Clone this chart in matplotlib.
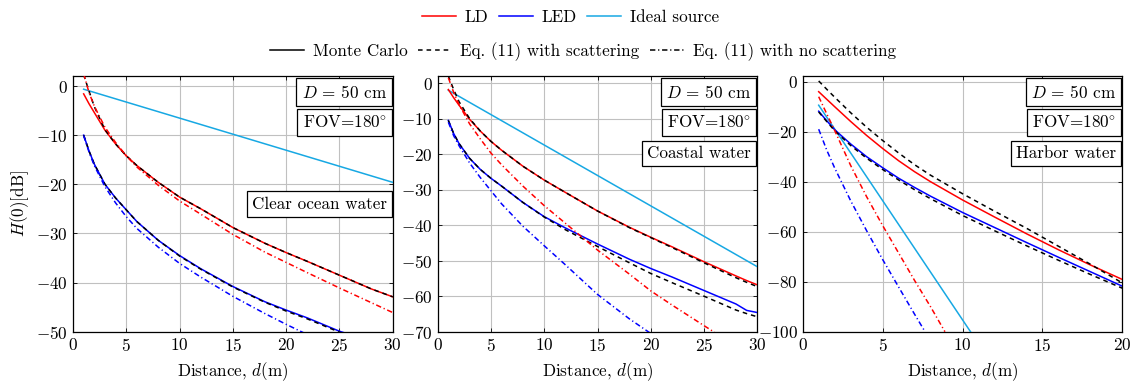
import matplotlib
matplotlib.use("Agg")
import matplotlib.pyplot as plt
from matplotlib.lines import Line2D

plt.rcParams['font.family'] = ['cmr10', 'DejaVu Serif']
plt.rcParams['mathtext.fontset'] = 'cm'
plt.rcParams['axes.formatter.use_mathtext'] = True
plt.rcParams['font.size'] = 12.3
plt.rcParams['axes.unicode_minus'] = True

FS = 12.3

# ---------------- data ----------------
# Panel 1: clear ocean water
d1 = [1, 1.5, 2, 3, 4, 5, 6, 8, 10, 12, 15, 18, 20, 22, 25, 28, 30]
clear_ld_mc = [-1.6, -3.6, -5.4, -9.0, -11.8, -14.2, -16.2, -19.6, -22.6, -25.0, -28.8, -32.0, -33.9, -35.7, -38.5, -41.3, -42.9]
clear_ld_sc = [2.3, -1.0, -4.2, -8.9, -11.8, -14.2, -16.2, -19.6, -22.6, -25.0, -28.8, -32.0, -33.9, -35.7, -38.5, -41.3, -42.9]
clear_ld_ns = [2.5, -1.3, -4.1, -8.4, -11.5, -14.2, -16.5, -20.2, -23.4, -26.1, -30.2, -33.8, -35.9, -38.0, -41.1, -44.1, -46.1]
d1b = [1, 1.5, 2, 3, 4, 5, 6, 8, 10, 12, 15, 18, 20, 22, 25, 26]
clear_led_mc = [-10.0, -13.2, -15.9, -20.0, -22.8, -25.2, -27.6, -31.4, -34.5, -37.2, -40.8, -43.9, -45.6, -47.2, -49.9, -50.6]
clear_led_sc = [-10.0, -13.2, -15.9, -20.0, -22.8, -25.2, -27.6, -31.4, -34.6, -37.3, -40.9, -44.0, -45.8, -47.4, -50.1, -50.8]
d1c = [1, 1.5, 2, 3, 4, 5, 6, 8, 10, 12, 15, 18, 20, 22]
clear_led_ns = [-10.1, -13.4, -16.2, -20.5, -23.8, -26.6, -29.0, -32.8, -36.1, -38.9, -42.8, -46.3, -48.5, -50.6]
clear_ideal_d = [1, 30]
clear_ideal = [-0.65, -19.6]

# Panel 2: coastal water
d2 = [1, 1.5, 2, 3, 4, 5, 6, 8, 10, 12, 15, 18, 20, 22, 25, 28, 29, 30]
coast_ld_mc = [-1.8, -4.1, -6.2, -10.2, -13.5, -16.4, -18.9, -23.4, -27.3, -30.8, -36.0, -40.6, -43.4, -46.1, -50.3, -54.3, -55.6, -56.8]
coast_ld_sc = [2.0, -1.8, -5.2, -10.0, -13.5, -16.4, -18.9, -23.4, -27.3, -30.8, -36.0, -40.7, -43.5, -46.3, -50.6, -54.8, -56.1, -57.3]
coast_led_mc = [-10.5, -14.2, -17.0, -21.2, -24.3, -26.8, -29.0, -33.6, -37.6, -40.8, -45.3, -49.6, -52.2, -54.6, -58.4, -62.2, -64.0, -64.6]
coast_led_sc = [-10.5, -14.2, -17.0, -21.2, -24.3, -26.8, -29.0, -33.6, -37.7, -41.3, -46.0, -50.6, -53.6, -56.2, -60.0, -63.9, -64.9, -65.8]
d2b = [1, 1.5, 2, 3, 4, 5, 6, 8, 10, 12, 15, 18, 20, 22, 25, 26]
coast_ld_ns = [1.5, -2.6, -6.0, -11.5, -15.7, -19.7, -23.0, -29.0, -34.5, -39.5, -47.0, -53.8, -58.5, -62.5, -68.3, -70.2]
d2c = [1, 1.5, 2, 3, 4, 5, 6, 8, 10, 12, 15, 18, 20]
coast_led_ns = [-11.0, -14.8, -17.6, -22.5, -26.6, -30.3, -34.0, -40.3, -45.8, -51.2, -59.5, -66.4, -70.5]
coast_ideal_d = [1, 30]
coast_ideal = [-2.0, -51.7]

# Panel 3: harbor water
d3 = [1, 1.5, 2, 3, 4, 5, 6, 7, 8, 10, 12, 14, 16, 18, 20]
harb_ld_mc = [-4.0, -7.0, -10.0, -15.9, -21.5, -26.7, -31.6, -36.0, -40.0, -47.3, -54.1, -60.8, -67.2, -73.3, -79.1]
harb_ld_sc = [0.3, -3.0, -6.2, -12.4, -18.2, -23.5, -28.5, -33.2, -37.4, -44.8, -51.8, -58.6, -65.8, -73.0, -80.5]
harb_led_mc = [-11.8, -15.6, -19.2, -24.9, -30.0, -34.4, -38.6, -42.3, -45.8, -52.3, -58.3, -64.3, -70.2, -76.0, -81.8]
harb_led_sc = [-12.1, -15.9, -19.6, -25.5, -30.6, -35.1, -39.3, -43.2, -46.8, -53.5, -59.6, -65.6, -71.4, -77.1, -82.6]
d3b = [1, 1.5, 2, 3, 4, 5, 6, 7, 8, 8.9]
harb_ld_ns = [-6.0, -12.8, -19.5, -33.5, -46.0, -57.5, -68.5, -79.5, -90.0, -100.0]
d3c = [1, 1.5, 2, 3, 4, 5, 6, 7, 7.6]
harb_led_ns = [-19.0, -27.3, -34.5, -47.6, -59.6, -71.1, -82.1, -93.0, -99.4]
harb_ideal_d = [1, 10.5]
harb_ideal = [-9.4, -100.0]

water_labels = ["Clear ocean water", "Coastal water", "Harbor water"]
legend_colors = ["LD", "LED", "Ideal source"]
legend_styles = ["Monte Carlo", "Eq. (11) with scattering", "Eq. (11) with no scattering"]

RED = '#FF0000'
BLUE = '#0000FF'
CYAN = '#17A8E3'
LW = 1.1
DASH = (0, (3.0, 2.6))
DASHDOT = (0, (3.5, 1.8, 0.8, 1.8))

W, H = 1134, 384
fig = plt.figure(figsize=(W / 100, H / 100), dpi=100)

ax_px = [(73, 392.7), (437.7, 757.3), (802.7, 1122.3)]
top_px, bot_px = 75.7, 331.7
axes = []
for (l, r) in ax_px:
    ax = fig.add_axes([l / W, (H - bot_px) / H, (r - l) / W, (bot_px - top_px) / H])
    axes.append(ax)

panels = [
    dict(d=d1, ld_mc=clear_ld_mc, ld_sc=clear_ld_sc, dns=d1, ld_ns=clear_ld_ns,
         dled=d1b, led_mc=clear_led_mc, led_sc=clear_led_sc, dledns=d1c, led_ns=clear_led_ns,
         di=clear_ideal_d, ideal=clear_ideal, xlim=(0, 30), ylim=(-50, 2.1), yticks=range(-50, 1, 10),
         xticks=range(0, 31, 5), wy=0.499),
    dict(d=d2, ld_mc=coast_ld_mc, ld_sc=coast_ld_sc, dns=d2b, ld_ns=coast_ld_ns,
         dled=d2, led_mc=coast_led_mc, led_sc=coast_led_sc, dledns=d2c, led_ns=coast_led_ns,
         di=coast_ideal_d, ideal=coast_ideal, xlim=(0, 30), ylim=(-70, 2.1), yticks=range(-70, 1, 10),
         xticks=range(0, 31, 5), wy=0.696),
    dict(d=d3, ld_mc=harb_ld_mc, ld_sc=harb_ld_sc, dns=d3b, ld_ns=harb_ld_ns,
         dled=d3, led_mc=harb_led_mc, led_sc=harb_led_sc, dledns=d3c, led_ns=harb_led_ns,
         di=harb_ideal_d, ideal=harb_ideal, xlim=(0, 20), ylim=(-100, 2.4), yticks=range(-100, 1, 20),
         xticks=range(0, 21, 5), wy=0.696),
]

box = dict(boxstyle='square,pad=0.3', fc='white', ec='black', lw=0.9)
for i, (ax, p) in enumerate(zip(axes, panels)):
    ax.plot(p['di'], p['ideal'], color=CYAN, lw=LW, zorder=3)
    ax.plot(p['d'], p['ld_mc'], color=RED, lw=LW, zorder=3)
    ax.plot(p['dled'], p['led_mc'], color=BLUE, lw=LW, zorder=3)
    ax.plot(p['d'], p['ld_sc'], color='black', lw=LW, linestyle=DASH, zorder=4)
    ax.plot(p['dled'], p['led_sc'], color='black', lw=LW, linestyle=DASH, zorder=4)
    ax.plot(p['dns'], p['ld_ns'], color=RED, lw=LW, linestyle=DASHDOT, zorder=5)
    ax.plot(p['dledns'], p['led_ns'], color=BLUE, lw=LW, linestyle=DASHDOT, zorder=5)
    ax.set_xlim(*p['xlim'])
    ax.set_ylim(*p['ylim'])
    ax.set_xticks(list(p['xticks']))
    ax.set_yticks(list(p['yticks']))
    ax.grid(True, color='#C0C0C0', lw=0.8)
    ax.set_axisbelow(True)
    ax.tick_params(direction='in', length=3, width=0.6, top=True, right=True, pad=3.5, labelsize=FS)
    for s in ax.spines.values():
        s.set_linewidth(0.9)
    ax.set_xlabel(r"Distance, $d$(m)", fontsize=FS, labelpad=5)
    ax.text(0.981, 0.936, r"$D$ = 50 cm", transform=ax.transAxes, ha='right', va='center',
            fontsize=FS, bbox=box, zorder=10)
    ax.text(0.981, 0.817, r"FOV=180$^{\circ}$", transform=ax.transAxes, ha='right', va='center',
            fontsize=FS, bbox=box, zorder=10)
    ax.text(0.981, p['wy'], water_labels[i], transform=ax.transAxes, ha='right', va='center',
            fontsize=FS, bbox=box, zorder=10)

axes[0].set_ylabel(r"$H(0)$[dB]", fontsize=FS, labelpad=4)

h1 = [Line2D([], [], color=c, lw=LW) for c in (RED, BLUE, CYAN)]
fig.legend(h1, legend_colors, loc='center', bbox_to_anchor=(0.503, 0.955), ncol=3,
           frameon=False, fontsize=FS, handlelength=2.0, handletextpad=0.5,
           columnspacing=0.6, borderpad=0.1)
h2 = [Line2D([], [], color='black', lw=LW),
      Line2D([], [], color='black', lw=LW, linestyle=DASH),
      Line2D([], [], color='black', lw=LW, linestyle=DASHDOT)]
fig.legend(h2, legend_styles, loc='center', bbox_to_anchor=(0.514, 0.866), ncol=3,
           frameon=False, fontsize=FS, handlelength=2.0, handletextpad=0.5,
           columnspacing=0.6, borderpad=0.1)

fig.savefig("out.png", dpi=100)
